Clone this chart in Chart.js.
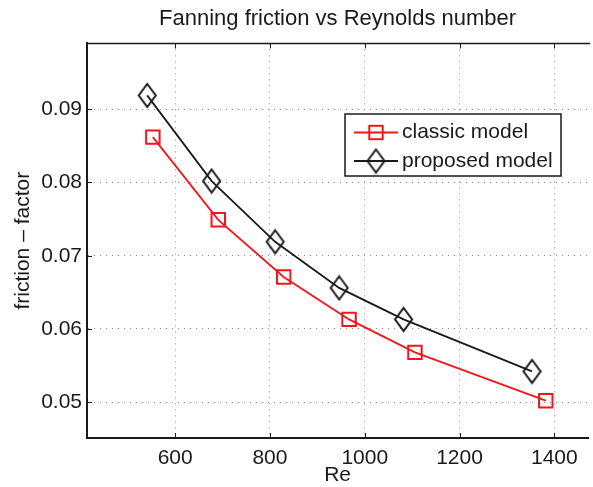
<!DOCTYPE html>
<html>
<head>
<meta charset="utf-8">
<script src="https://cdn.jsdelivr.net/npm/chart.js@4.4.0/dist/chart.umd.min.js"></script>
<style>
  html, body { margin: 0; padding: 0; background: #fff; overflow: hidden; }
  #wrap { width: 600px; height: 487px; }
</style>
</head>
<body>
<div id="wrap"><canvas id="friction" width="600" height="487"></canvas></div>
<script>
// Fanning friction factor against Reynolds number, two models
const reClassic = [553, 691, 829, 967, 1106, 1382];
const fClassic = [0.0862, 0.0749, 0.0671, 0.0613, 0.0568, 0.0502];
const reProposed = [541, 677, 811, 946, 1082, 1353];
const fProposed = [0.0919, 0.0802, 0.0719, 0.0656, 0.0613, 0.0542];
const xTicks = [600, 800, 1000, 1200, 1400];
const yTicks = [0.05, 0.06, 0.07, 0.08, 0.09];

const RED = "#f5141c";
const INK = "#1a1a1a";
const FONT = "'Liberation Sans', Arial, Helvetica, sans-serif";

// open diamond, a bit taller than wide
function makeDiamond(color) {
  const hw = 8.5, hh = 11.5;
  const c = document.createElement("canvas");
  c.width = Math.ceil(hw * 2 + 4);
  c.height = Math.ceil(hh * 2 + 4);
  const g = c.getContext("2d");
  const cx = c.width / 2, cy = c.height / 2;
  g.strokeStyle = color;
  g.lineWidth = 2;
  g.beginPath();
  g.moveTo(cx, cy - hh);
  g.lineTo(cx + hw, cy);
  g.lineTo(cx, cy + hh);
  g.lineTo(cx - hw, cy);
  g.closePath();
  g.stroke();
  return c;
}
const diamond = makeDiamond(INK);

function toPoints(xs, ys) {
  return xs.map((x, i) => ({ x: x, y: ys[i] }));
}

// inward tick marks on the bottom, top and left edges, plus the top frame line
const frameTicks = {
  id: "frameTicks",
  afterDraw(chart) {
    const { ctx, chartArea } = chart;
    const xs = chart.scales.x, ys = chart.scales.y;
    ctx.save();
    ctx.strokeStyle = INK;
    ctx.lineWidth = 1.5;
    ctx.beginPath();
    ctx.moveTo(chartArea.left, chartArea.top);
    ctx.lineTo(chartArea.right + 2, chartArea.top);
    ctx.stroke();
    ctx.lineWidth = 1;
    xs.ticks.forEach((t) => {
      const px = Math.round(xs.getPixelForValue(t.value)) + 0.5;
      ctx.beginPath();
      ctx.moveTo(px, chartArea.bottom);
      ctx.lineTo(px, chartArea.bottom - 5);
      ctx.moveTo(px, chartArea.top);
      ctx.lineTo(px, chartArea.top + 5);
      ctx.stroke();
    });
    ys.ticks.forEach((t) => {
      const py = Math.round(ys.getPixelForValue(t.value)) + 0.5;
      ctx.beginPath();
      ctx.moveTo(chartArea.left, py);
      ctx.lineTo(chartArea.left + 5, py);
      ctx.stroke();
    });
    ctx.restore();
  },
};

// boxed legend inside the axes, line sample with marker in its middle
const boxLegend = {
  id: "boxLegend",
  afterDatasetsDraw(chart) {
    const ctx = chart.ctx;
    const box = { x: 345, y: 114, w: 216, h: 62 };
    const rows = [132.5, 161];
    ctx.save();
    ctx.fillStyle = "#fff";
    ctx.fillRect(box.x, box.y, box.w, box.h);
    ctx.strokeStyle = INK;
    ctx.lineWidth = 1.5;
    ctx.strokeRect(box.x, box.y, box.w, box.h);
    chart.data.datasets.forEach((ds, i) => {
      const y = rows[i];
      ctx.strokeStyle = ds.borderColor;
      ctx.lineWidth = ds.borderWidth;
      ctx.beginPath();
      ctx.moveTo(354, y);
      ctx.lineTo(398, y);
      ctx.stroke();
      if (ds.pointStyle === "rect") {
        ctx.lineWidth = 2;
        ctx.strokeRect(376 - 6.7, y - 6.7, 13.4, 13.4);
      } else {
        ctx.drawImage(ds.pointStyle, 376 - ds.pointStyle.width / 2, y - ds.pointStyle.height / 2);
      }
      ctx.fillStyle = INK;
      ctx.font = "21px " + FONT;
      ctx.textBaseline = "middle";
      ctx.textAlign = "left";
      ctx.fillText(ds.label, 402, y);
    });
    ctx.restore();
  },
};

new Chart("friction", {
  type: "line",
  plugins: [frameTicks, boxLegend],
  data: {
    datasets: [
      {
        label: "classic model",
        data: toPoints(reClassic, fClassic),
        borderColor: RED,
        borderWidth: 1.8,
        pointStyle: "rect",
        pointRadius: 9.5,
        pointBorderWidth: 2,
        pointBorderColor: RED,
        pointBackgroundColor: "rgba(0,0,0,0)",
        tension: 0,
        clip: false,
      },
      {
        label: "proposed model",
        data: toPoints(reProposed, fProposed),
        borderColor: INK,
        borderWidth: 1.8,
        pointStyle: diamond,
        pointRadius: 10,
        tension: 0,
        clip: false,
      },
    ],
  },
  options: {
    responsive: false,
    animation: false,
    devicePixelRatio: 1,
    layout: { padding: 0 },
    plugins: {
      legend: { display: false },
      tooltip: { enabled: false },
      title: {
        display: true,
        text: "Fanning friction vs Reynolds number",
        color: INK,
        fullSize: false,
        font: { family: FONT, size: 22, weight: "normal", lineHeight: 1.2 },
        padding: { top: 6, bottom: 11 },
      },
    },
    scales: {
      x: {
        type: "linear",
        min: 414,
        max: 1471.5,
        afterFit(scale) { scale.height = 49; },
        afterBuildTicks(scale) { scale.ticks = xTicks.map((v) => ({ value: v })); },
        ticks: {
          color: INK,
          padding: 8,
          font: { family: FONT, size: 21 },
          callback: (v) => String(v),
        },
        grid: { color: "#8c8c8c", lineWidth: 1, drawTicks: false },
        border: { display: true, color: INK, width: 2, dash: [1, 5] },
        title: {
          display: true,
          text: "Re",
          color: INK,
          font: { family: FONT, size: 21, lineHeight: 1 },
          padding: { top: 0, bottom: 1 },
        },
      },
      y: {
        type: "linear",
        min: 0.0451,
        max: 0.099,
        afterFit(scale) { scale.width = 87; },
        afterBuildTicks(scale) { scale.ticks = yTicks.map((v) => ({ value: v })); },
        ticks: {
          color: INK,
          padding: 5,
          font: { family: FONT, size: 21 },
          callback: (v) => v.toFixed(2),
        },
        grid: { color: "#8c8c8c", lineWidth: 1, drawTicks: false },
        border: { display: true, color: INK, width: 2, dash: [1, 5] },
        title: {
          display: true,
          text: "friction – factor",
          color: INK,
          font: { family: FONT, size: 21, lineHeight: 1 },
          padding: { top: 13, bottom: 0 },
        },
      },
    },
  },
});
</script>
</body>
</html>
